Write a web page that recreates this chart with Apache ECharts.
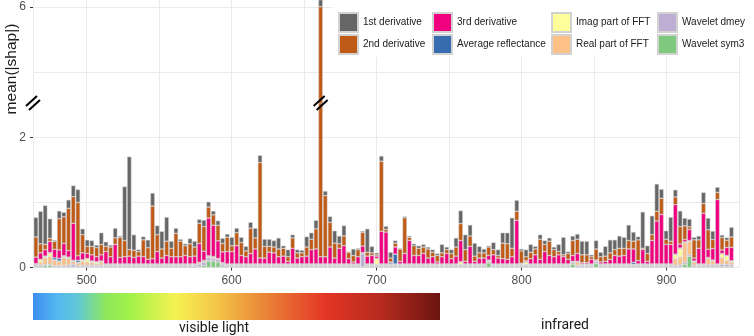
<!DOCTYPE html>
<html><head><meta charset="utf-8">
<script src="https://cdn.jsdelivr.net/npm/echarts@6/dist/echarts.min.js"></script>
<style>html,body{margin:0;padding:0;background:#fff}#c{width:754px;height:336px}</style>
</head><body><div id="c"></div>
<script>
const wavelengths = [
465.0,468.2,471.4,474.7,477.9,481.1,484.3,487.5,490.8,494.0,
497.2,500.4,503.6,506.9,510.1,513.3,516.5,519.7,523.0,526.2,
529.4,532.6,535.8,539.1,542.3,545.5,548.7,551.9,555.2,558.4,
561.6,564.8,568.0,571.3,574.5,577.7,580.9,584.1,587.4,590.6,
593.8,597.0,600.2,603.5,606.7,609.9,613.1,616.3,619.6,622.8,
626.0,629.2,632.4,635.7,638.9,642.1,645.3,648.5,651.8,655.0,
658.2,661.4,664.6,667.9,671.1,674.3,677.5,680.7,684.0,687.2,
690.4,693.6,696.8,700.1,703.3,706.5,709.7,712.9,716.2,719.4,
722.6,725.8,729.0,732.3,735.5,738.7,741.9,745.1,748.4,751.6,
754.8,758.0,761.2,764.5,767.7,770.9,774.1,777.3,780.6,783.8,
787.0,790.2,793.4,796.7,799.9,803.1,806.3,809.5,812.8,816.0,
819.2,822.4,825.6,828.9,832.1,835.3,838.5,841.7,845.0,848.2,
851.4,854.6,857.8,861.1,864.3,867.5,870.7,873.9,877.2,880.4,
883.6,886.8,890.0,893.3,896.5,899.7,902.9,906.1,909.4,912.6,
915.8,919.0,922.2,925.5,928.7,931.9,935.1,938.3,941.6,944.8];

const firstDeriv = [
0.30,0.50,0.60,0.30,0.02,0.12,0.07,0.13,0.17,0.20,
0.09,0.10,0.09,0.04,0.18,0.07,0.03,0.15,0.02,0.83,
1.43,0.24,0.03,0.05,0.12,0.20,0.14,0.27,0.37,0.11,
0.08,0.03,0.03,0.08,0.09,0.06,0.10,0.08,0.06,0.07,
0.08,0.05,0.13,0.07,0.08,0.07,0.09,0.15,0.11,0.11,
0.11,0.10,0.17,0.04,0.11,0.05,0.05,0.04,0.16,0.10,
0.13,0.20,0.07,0.09,0.19,0.12,0.16,0.01,0.10,0.02,
0.02,0.36,0.10,0.03,0.08,0.05,0.09,0.04,0.01,0.02,
0.02,0.03,0.04,0.04,0.03,0.04,0.03,0.13,0.04,0.06,
0.14,0.20,0.23,0.17,0.20,0.10,0.06,0.02,0.11,0.09,
0.16,0.17,0.47,0.17,0.03,0.11,0.12,0.04,0.07,0.06,
0.05,0.04,0.11,0.27,0.03,0.07,0.08,0.21,0.21,0.03,
0.13,0.07,0.15,0.20,0.15,0.19,0.17,0.24,0.14,0.05,
0.56,0.12,0.29,0.42,0.14,0.13,0.37,0.11,0.24,0.12,
0.12,0.04,0.06,0.17,0.18,0.13,0.08,0.04,0.04,0.15];

const secondDeriv = [
0.31,0.14,0.08,0.05,0.12,0.48,0.41,0.65,0.41,0.82,
0.28,0.11,0.13,0.14,0.16,0.08,0.15,0.10,0.31,0.25,
0.10,0.11,0.07,0.26,0.18,0.81,0.26,0.14,0.22,0.13,
0.36,0.24,0.15,0.20,0.14,0.31,0.38,0.17,0.16,0.24,
0.13,0.22,0.09,0.20,0.20,0.09,0.39,0.17,1.47,0.18,
0.09,0.09,0.12,0.12,0.07,0.16,0.08,0.06,0.14,0.16,
0.31,5.84,0.94,0.38,0.23,0.07,0.15,0.10,0.10,0.11,
0.21,0.06,0.04,0.02,1.08,0.04,0.06,0.06,0.19,0.55,
0.05,0.15,0.11,0.10,0.14,0.07,0.10,0.06,0.06,0.08,
0.14,0.26,0.18,0.16,0.08,0.08,0.08,0.13,0.08,0.04,
0.24,0.24,0.13,0.14,0.19,0.06,0.10,0.09,0.31,0.11,
0.22,0.11,0.05,0.03,0.09,0.23,0.22,0.12,0.12,0.04,
0.17,0.08,0.08,0.10,0.09,0.12,0.11,0.13,0.12,0.32,
0.02,0.12,0.09,0.15,0.25,0.08,0.05,0.12,0.27,0.21,
0.04,0.28,0.13,0.15,0.30,0.14,0.11,0.19,0.11,0.16];

const thirdDeriv = [
0.10,0.10,0.10,0.17,0.13,0.13,0.19,0.10,0.57,0.07,
0.105,0.075,0.095,0.075,0.095,0.19,0.11,0.30,0.10,0.11,
0.12,0.10,0.12,0.11,0.07,0.08,0.19,0.09,0.13,0.11,
0.11,0.11,0.13,0.11,0.12,0.29,0.14,0.58,0.48,0.27,
0.165,0.19,0.19,0.28,0.13,0.11,0.16,0.23,0.09,0.09,
0.18,0.17,0.11,0.12,0.04,0.24,0.09,0.11,0.12,0.22,
0.23,0.11,0.11,0.26,0.09,0.24,0.28,0.08,0.03,0.11,
0.10,0.12,0.13,0.035,0.50,0.49,0.015,0.11,0.04,0.16,
0.36,0.13,0.13,0.16,0.09,0.11,0.03,0.11,0.16,0.08,
0.12,0.325,0.04,0.27,0.04,0.09,0.09,0.07,0.14,0.09,
0.08,0.07,0.11,0.67,0.01,0.015,0.08,0.14,0.07,0.19,
0.13,0.11,0.14,0.11,0.07,0.09,0.12,0.02,0.02,0.07,
0.01,0.03,0.04,0.07,0.13,0.12,0.13,0.23,0.205,0.05,
0.22,0.04,0.36,0.66,0.76,0.30,0.30,0.76,0.06,0.035,
0.17,0.045,0.24,0.78,0.125,0.175,0.99,0.055,0.125,0.205];

const avgReflectance = [
0.005,0.005,0.005,0.01,0.03,0.04,0.01,0.01,0.01,0.03,
0.005,0.005,0.005,0.005,0.005,0.005,0.005,0.005,0.005,0.005,
0.005,0.005,0.005,0.005,0.005,0.005,0.005,0.005,0.005,0.005,
0.005,0.005,0.005,0.005,0.005,0.005,0.005,0.005,0.005,0.005,
0.01,0.005,0.005,0.005,0.005,0.005,0.005,0.005,0.005,0.005,
0.005,0.005,0.005,0.005,0.005,0.005,0.005,0.005,0.005,0.005,
0.005,0.005,0.005,0.005,0.005,0.005,0.005,0.005,0.005,0.005,
0.005,0.005,0.005,0.005,0.005,0.005,0.02,0.15,0.005,0.005,
0.005,0.005,0.005,0.005,0.005,0.005,0.005,0.005,0.005,0.005,
0.005,0.005,0.005,0.005,0.005,0.005,0.005,0.005,0.005,0.005,
0.005,0.005,0.005,0.005,0.005,0.005,0.005,0.005,0.005,0.005,
0.005,0.005,0.005,0.005,0.005,0.005,0.005,0.005,0.005,0.005,
0.005,0.005,0.005,0.005,0.005,0.005,0.005,0.005,0.03,0.005,
0.005,0.005,0.005,0.005,0.005,0.005,0.005,0.01,0.01,0.005,
0.01,0.005,0.005,0.005,0.005,0.005,0.005,0.005,0.005,0.005];

const imagFFT = [
0.005,0.04,0.02,0.05,0.01,0.01,0.02,0.01,0.01,0.01,
0.02,0.05,0.02,0.03,0.01,0.005,0.005,0.005,0.005,0.005,
0.005,0.005,0.005,0.005,0.005,0.005,0.005,0.005,0.005,0.005,
0.005,0.005,0.005,0.005,0.005,0.005,0.005,0.005,0.005,0.005,
0.005,0.005,0.005,0.005,0.005,0.005,0.005,0.005,0.005,0.005,
0.005,0.005,0.005,0.005,0.005,0.005,0.005,0.005,0.005,0.005,
0.005,0.005,0.005,0.005,0.005,0.005,0.005,0.005,0.005,0.005,
0.005,0.005,0.005,0.09,0.005,0.005,0.005,0.01,0.005,0.005,
0.005,0.005,0.005,0.005,0.005,0.005,0.005,0.005,0.005,0.005,
0.005,0.04,0.005,0.005,0.005,0.005,0.005,0.005,0.005,0.005,
0.005,0.005,0.005,0.005,0.005,0.04,0.005,0.005,0.005,0.005,
0.005,0.005,0.005,0.005,0.005,0.005,0.005,0.005,0.005,0.005,
0.005,0.005,0.005,0.005,0.005,0.005,0.005,0.005,0.005,0.005,
0.005,0.005,0.005,0.005,0.005,0.005,0.005,0.06,0.13,0.01,
0.01,0.01,0.005,0.005,0.01,0.01,0.005,0.06,0.07,0.02];

const realFFT = [
0.01,0.04,0.10,0.12,0.08,0.06,0.12,0.10,0.04,0.04,
0.06,0.05,0.04,0.02,0.05,0.01,0.01,0.01,0.01,0.01,
0.01,0.01,0.01,0.01,0.01,0.01,0.01,0.01,0.01,0.01,
0.01,0.01,0.01,0.01,0.01,0.02,0.02,0.02,0.02,0.01,
0.01,0.01,0.01,0.01,0.01,0.01,0.01,0.01,0.01,0.01,
0.01,0.01,0.01,0.01,0.01,0.01,0.01,0.01,0.01,0.01,
0.01,0.01,0.01,0.01,0.01,0.01,0.01,0.01,0.01,0.01,
0.01,0.01,0.01,0.01,0.01,0.01,0.01,0.01,0.01,0.01,
0.01,0.01,0.01,0.01,0.01,0.01,0.01,0.01,0.01,0.01,
0.01,0.01,0.01,0.01,0.01,0.01,0.01,0.01,0.01,0.01,
0.01,0.01,0.01,0.01,0.01,0.01,0.01,0.01,0.01,0.01,
0.01,0.01,0.01,0.01,0.01,0.01,0.05,0.01,0.01,0.01,
0.01,0.01,0.01,0.01,0.01,0.01,0.01,0.01,0.01,0.01,
0.01,0.01,0.01,0.01,0.01,0.01,0.01,0.10,0.12,0.30,
0.20,0.05,0.01,0.01,0.10,0.06,0.01,0.10,0.06,0.04];

const waveletDmey = [
0.02,0.02,0.02,0.02,0.02,0.02,0.02,0.03,0.04,0.02,
0.025,0.025,0.025,0.025,0.025,0.025,0.025,0.025,0.025,0.025,
0.025,0.025,0.025,0.025,0.025,0.025,0.025,0.025,0.025,0.025,
0.025,0.025,0.025,0.025,0.025,0.04,0.05,0.05,0.04,0.04,
0.03,0.025,0.025,0.025,0.025,0.025,0.025,0.025,0.025,0.025,
0.025,0.025,0.025,0.025,0.025,0.025,0.025,0.025,0.025,0.025,
0.025,0.025,0.025,0.025,0.025,0.025,0.025,0.025,0.025,0.025,
0.20,0.025,0.025,0.025,0.025,0.025,0.025,0.025,0.025,0.025,
0.025,0.025,0.025,0.025,0.025,0.025,0.025,0.025,0.025,0.025,
0.025,0.025,0.025,0.025,0.025,0.025,0.025,0.025,0.025,0.025,
0.025,0.025,0.025,0.025,0.025,0.025,0.025,0.025,0.025,0.025,
0.025,0.025,0.025,0.025,0.025,0.025,0.025,0.025,0.025,0.025,
0.025,0.025,0.025,0.025,0.025,0.025,0.025,0.025,0.025,0.025,
0.025,0.025,0.025,0.025,0.025,0.025,0.025,0.025,0.03,0.03,
0.025,0.025,0.025,0.025,0.03,0.03,0.025,0.04,0.04,0.03];

const waveletSym3 = [
0.02,0.02,0.03,0.03,0.01,0.01,0.01,0.01,0.01,0.01,
0.01,0.01,0.01,0.01,0.01,0.01,0.01,0.01,0.01,0.01,
0.01,0.01,0.01,0.01,0.01,0.01,0.01,0.01,0.01,0.01,
0.01,0.01,0.01,0.01,0.01,0.01,0.03,0.10,0.10,0.08,
0.02,0.01,0.01,0.01,0.01,0.01,0.01,0.01,0.01,0.01,
0.01,0.01,0.01,0.01,0.01,0.01,0.01,0.01,0.01,0.01,
0.01,0.01,0.01,0.01,0.01,0.01,0.01,0.01,0.01,0.01,
0.01,0.01,0.01,0.01,0.01,0.01,0.01,0.01,0.01,0.01,
0.01,0.01,0.01,0.01,0.01,0.01,0.01,0.01,0.01,0.01,
0.01,0.01,0.01,0.01,0.01,0.01,0.01,0.07,0.01,0.01,
0.01,0.01,0.01,0.01,0.01,0.01,0.01,0.01,0.01,0.01,
0.01,0.01,0.01,0.01,0.01,0.05,0.01,0.01,0.01,0.01,
0.06,0.01,0.01,0.01,0.01,0.01,0.01,0.01,0.01,0.01,
0.01,0.01,0.01,0.01,0.01,0.01,0.01,0.01,0.01,0.05,
0.17,0.01,0.01,0.01,0.01,0.01,0.01,0.01,0.01,0.01];

const xTickLabels = [500, 600, 700, 800, 900];
const xGridValues = [500, 550, 600, 650, 700, 750, 800, 850, 900, 950];
const lowerTickLabels = [0, 2];
const lowerGridValues = [0, 1, 2];
const upperTickLabels = [6];
const upperGridValues = [5, 6];

const seriesDefs = [
  { name: 'Wavelet sym3', data: waveletSym3, color: '#7FC97F' },
  { name: 'Wavelet dmey', data: waveletDmey, color: '#BEAED4' },
  { name: 'Real part of FFT', data: realFFT, color: '#FDC086' },
  { name: 'Imag part of FFT', data: imagFFT, color: '#FFFF99' },
  { name: 'Average reflectance', data: avgReflectance, color: '#386CB0' },
  { name: '3rd derivative', data: thirdDeriv, color: '#F0027F' },
  { name: '2nd derivative', data: secondDeriv, color: '#BF5B17' },
  { name: '1st derivative', data: firstDeriv, color: '#666666' }
];

const FONT = 'Liberation Sans, Arial, sans-serif';
const XMIN = 463, XMAX = 950;

// rows are [value, wavelength]; encode maps column 1 to x so the value column is stacked
function makeSeries(axisIdx, stack) {
  return seriesDefs.map(d => ({
    type: 'bar', name: d.name, stack: stack,
    xAxisIndex: axisIdx, yAxisIndex: axisIdx,
    barWidth: 4.3,
    encode: { x: 1, y: 0 },
    data: wavelengths.map((w, i) => [d.data[i], w]),
    itemStyle: { color: d.color, borderColor: '#d2d2d2', borderWidth: 0.5 },
    emphasis: { disabled: true },
    animation: false
  }));
}

const gridLine = { show: true, lineStyle: { color: '#ebebeb', width: 1 } };

const chart = echarts.init(document.getElementById('c'), null, { renderer: 'canvas' });
chart.setOption({
  animation: false,
  grid: [
    { left: 33, right: 15, top: 103, bottom: 68.5 },
    { left: 33, right: 15, top: 0, height: 103 }
  ],
  xAxis: [
    { gridIndex: 0, type: 'value', min: XMIN, max: XMAX, position: 'bottom',
      axisLine: { show: false, onZero: false },
      axisTick: { show: true, length: 3, customValues: xTickLabels, lineStyle: { color: '#333' } },
      axisLabel: { customValues: xTickLabels, color: '#4d4d4d', fontSize: 12, fontFamily: FONT, margin: 7 },
      splitLine: { show: false } },
    { gridIndex: 0, type: 'value', min: XMIN, max: XMAX, position: 'top',
      axisLine: { show: false, onZero: false },
      axisTick: { show: false, customValues: xGridValues },
      axisLabel: { show: false }, splitLine: gridLine },
    { gridIndex: 1, type: 'value', min: XMIN, max: XMAX, position: 'bottom',
      axisLine: { show: false, onZero: false },
      axisTick: { show: false, customValues: xGridValues },
      axisLabel: { show: false }, splitLine: gridLine }
  ],
  yAxis: [
    { gridIndex: 0, type: 'value', min: 0, max: 2.53, position: 'left',
      axisLine: { show: true, onZero: false, lineStyle: { color: '#ebebeb' } },
      axisTick: { show: true, length: 3, customValues: lowerTickLabels, lineStyle: { color: '#333' } },
      axisLabel: { customValues: lowerTickLabels, color: '#4d4d4d', fontSize: 12, fontFamily: FONT, margin: 7, showMinLabel: true },
      splitLine: { show: false } },
    { gridIndex: 0, type: 'value', min: 0, max: 2.53, position: 'right',
      axisLine: { show: false },
      axisTick: { show: false, customValues: lowerGridValues },
      axisLabel: { show: false }, splitLine: gridLine },
    { gridIndex: 1, type: 'value', min: 4.523, max: 6.108, position: 'left',
      axisLine: { show: true, onZero: false, lineStyle: { color: '#ebebeb' } },
      axisTick: { show: true, length: 3, customValues: upperTickLabels, lineStyle: { color: '#333' } },
      axisLabel: { customValues: upperTickLabels, color: '#4d4d4d', fontSize: 12, fontFamily: FONT, margin: 7 },
      splitLine: { show: false } },
    { gridIndex: 1, type: 'value', min: 4.523, max: 6.108, position: 'right',
      axisLine: { show: false },
      axisTick: { show: false, customValues: upperGridValues },
      axisLabel: { show: false }, splitLine: gridLine }
  ],
  legend: [
    [['1st derivative', '2nd derivative'], 338],
    [['3rd derivative', 'Average reflectance'], 432],
    [['Imag part of FFT', 'Real part of FFT'], 551],
    [['Wavelet dmey', 'Wavelet sym3'], 657]
  ].map(([names, left]) => ({
    data: names, left: left, top: 12, orient: 'vertical',
    itemWidth: 19, itemHeight: 19, itemGap: 1, padding: 0,
    icon: 'rect', selectedMode: false, z: 60,
    textStyle: { fontSize: 10, color: '#1a1a1a', fontFamily: FONT }
  })),
  series: [].concat(makeSeries(0, 'lower'), makeSeries(2, 'upper')),
  graphic: [
    { type: 'rect', z: 50, shape: { x: 333, y: 0, width: 421, height: 57 }, style: { fill: '#ffffff' } },
    { type: 'text', z: 55, x: 12, y: 69, rotation: Math.PI / 2,
      style: { text: 'mean(|shap|)', font: '15.5px Liberation Sans, Arial, sans-serif', fill: '#1a1a1a', textAlign: 'center', textVerticalAlign: 'middle' } },
    { type: 'rect', z: 55, shape: { x: 33, y: 293, width: 407, height: 27 },
      style: { fill: new echarts.graphic.LinearGradient(0, 0, 1, 0, [
        { offset: 0, color: '#3d8ef0' },
        { offset: 0.06, color: '#55b8f2' },
        { offset: 0.11, color: '#62c8d6' },
        { offset: 0.18, color: '#8ee85a' },
        { offset: 0.24, color: '#a2f24a' },
        { offset: 0.35, color: '#f6f252' },
        { offset: 0.45, color: '#f4c648' },
        { offset: 0.56, color: '#ea8a38' },
        { offset: 0.72, color: '#e43525' },
        { offset: 0.86, color: '#b32a1d' },
        { offset: 1, color: '#6c1410' }
      ]) } },
    { type: 'text', z: 55, x: 214, y: 328,
      style: { text: 'visible light', font: '14px Roboto, sans-serif', fill: '#1a1a1a', textAlign: 'center', textVerticalAlign: 'middle' } },
    { type: 'text', z: 55, x: 565, y: 325,
      style: { text: 'infrared', font: '14px Roboto, sans-serif', fill: '#1a1a1a', textAlign: 'center', textVerticalAlign: 'middle' } }
  ]
});

// axis-break marks at the junction of the two panels
const breakY = chart.convertToPixel({ gridIndex: 0 }, [XMIN, 2.53])[1];
const axisX = chart.convertToPixel({ gridIndex: 0 }, [XMIN, 0])[0];
const tallX = chart.convertToPixel({ gridIndex: 0 }, [wavelengths[61], 0])[0];
function slash(cx, cy) {
  return [
    { type: 'line', z: 58, shape: { x1: cx - 7, y1: cy + 3, x2: cx + 4, y2: cy - 7 }, style: { stroke: '#000', lineWidth: 2 } },
    { type: 'line', z: 58, shape: { x1: cx - 4, y1: cy + 7, x2: cx + 7, y2: cy - 3 }, style: { stroke: '#000', lineWidth: 2 } }
  ];
}
const opt = chart.getOption();
chart.setOption({ graphic: opt.graphic[0].elements.concat(slash(axisX, breakY), slash(tallX, breakY)) });
</script>
</body></html>
